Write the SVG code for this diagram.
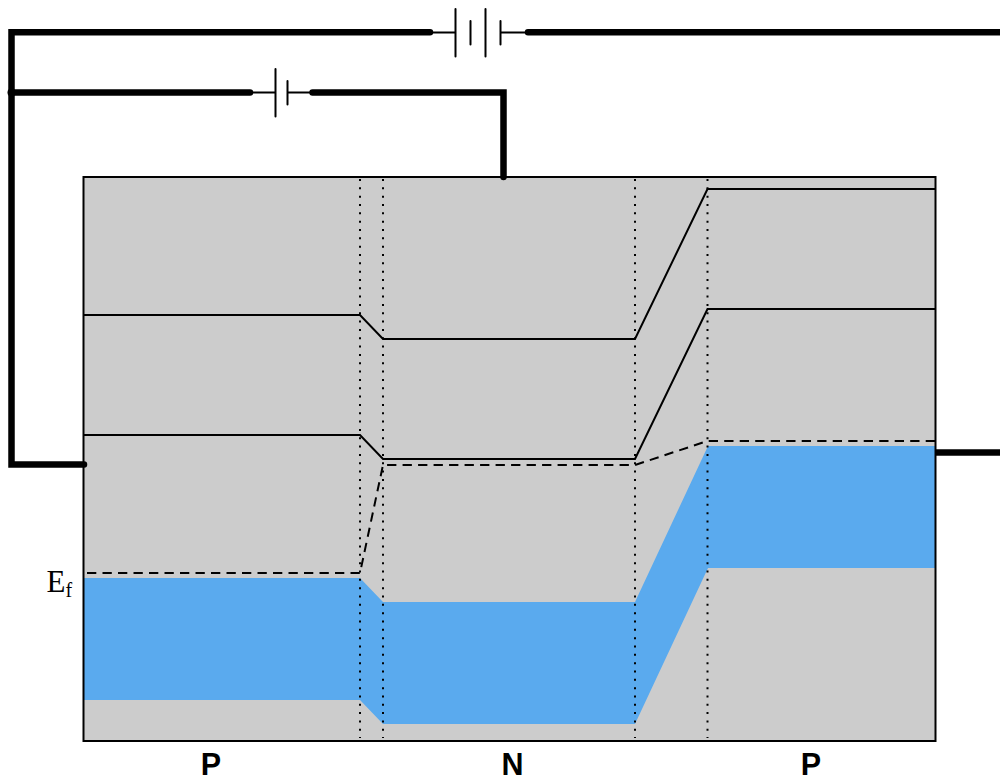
<svg xmlns="http://www.w3.org/2000/svg" width="1000" height="784" viewBox="0 0 1000 784">
<style>
.wire{fill:none;stroke:#000;stroke-width:6.500;stroke-linecap:round;stroke-linejoin:miter}
.thin{fill:none;stroke:#000;stroke-width:2;stroke-linecap:round}
.band{fill:none;stroke:#000;stroke-width:2}
.fermi{fill:none;stroke:#000;stroke-width:2;stroke-dasharray:9.300 6.200}
.div{fill:none;stroke:#000;stroke-width:2;stroke-dasharray:2 6.330}
.lbl{font-family:"Liberation Sans",Arial,sans-serif;font-weight:bold;font-size:30.500px;text-anchor:middle;fill:#000}
.ef{font-family:"Liberation Serif","Times New Roman",serif;fill:#000}
</style>
<g id="device">
<rect x="83.5" y="177" width="852" height="564" fill="#cccccc"/>
<path id="valence-band" fill="#5aaaee" d="M84 578H360L383 602H635L708 446H935V568H708L635 724H383L360 700H84Z"/>
<path id="divider-1" class="div" d="M360 179V738"/>
<path id="divider-2" class="div" d="M383 179V738"/>
<path id="divider-3" class="div" d="M635 179V738"/>
<path id="divider-4" class="div" d="M707.500 179V738"/>
<path id="upper-band" class="band" d="M84 315H360L383 339H635L707.500 189H935"/>
<path id="lower-band" class="band" d="M84 435H360L383 459H635L707.500 309H935"/>
<path id="fermi-level" class="fermi" d="M87 573H360L383 465H635L707.500 441H935"/>
<rect x="83.500" y="177" width="852" height="564" fill="none" stroke="#000" stroke-width="2"/>
</g>
<g id="connectors">
<path class="wire" d="M430 32.300H11.500V464.500H84"/>
<path class="wire" d="M528 32.300H1006"/>
<path class="wire" d="M11.500 92.500H250"/>
<circle cx="11.500" cy="92.500" r="4" fill="#000"/>
<path class="wire" d="M312.500 92.500H503.500V177"/>
<path d="M936 452.500H1006" fill="none" stroke="#000" stroke-width="6.500"/>
</g>
<g id="battery-1">
<path class="thin" d="M430 32.500H455.500M455.500 9V56.500M470.500 21V44.500M485.500 9V56.500M500.500 21V44.500M500.500 32.500H528"/>
</g>
<g id="battery-2">
<path class="thin" d="M250 92.500H275.500M275.500 69V116.500M287.500 81V104.500M287.500 92.500H312.500"/>
</g>
<g id="label-ef"><text class="ef" x="46.500" y="591.700" font-size="31">E<tspan font-size="20" dy="5.500">f</tspan></text></g>
<g id="label-p1"><text class="lbl" x="211" y="775">P</text></g>
<g id="label-n"><text class="lbl" x="512.500" y="775">N</text></g>
<g id="label-p2"><text class="lbl" x="811" y="775">P</text></g>
</svg>
